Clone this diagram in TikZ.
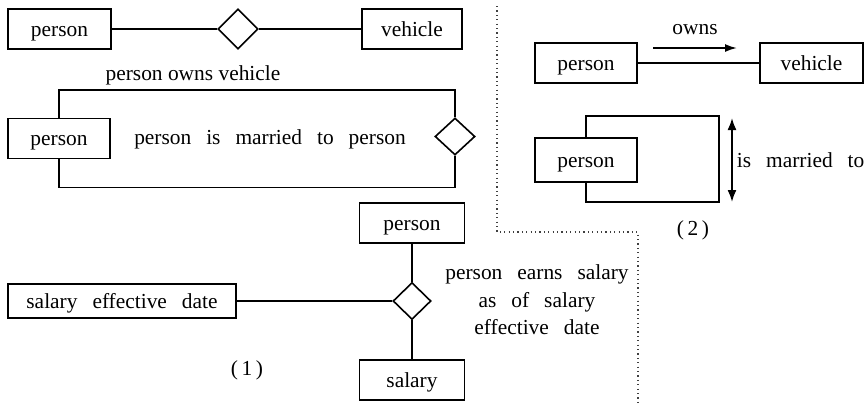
\documentclass[tikz,border=0pt]{standalone}
\usepackage{fontspec}
\setmainfont{Liberation Serif}
\usetikzlibrary{arrows.meta,positioning,shapes.geometric}

\newcommand{\erfont}{\fontsize{10.7}{13.7}\selectfont}
\newcommand{\erwide}{\erfont\spaceskip=0.7em\relax}

\begin{document}
\begin{tikzpicture}[x=0.5pt, y=-0.5pt,
    entity/.style={draw, line width=0.8pt, minimum height=20pt, inner sep=2pt, text height=9pt, text depth=2pt, font=\erfont},
    rel/.style={draw, diamond, line width=0.8pt, minimum width=20pt, minimum height=20pt, inner sep=0pt},
    link/.style={line width=0.8pt},
    arrow/.style={line width=0.9pt, -{Latex[length=6pt,width=4pt]}},
    darrow/.style={line width=0.9pt, {Latex[length=6pt,width=4.5pt]}-{Latex[length=6pt,width=4.5pt]}},
    lab/.style={font=\erfont, inner sep=2pt},
    wide/.style={font=\erwide},
    sep/.style={line width=0.6pt, black!75, dash pattern=on 0.6pt off 1.6pt}
  ]
    \useasboundingbox (0,0) rectangle (868,403);

    % (1) binary relation
    \node[entity, minimum width=51.5pt] (pA) at (59.5,29) {person};
    \node[rel] (dA) at (238,29) {};
    \node[entity, minimum width=50pt] (vA) at (412,29) {vehicle};
    \node[lab] (capA) at (193,75) {person owns vehicle};
    \draw[link] (pA) -- (dA) -- (vA);

    % (1) recursive relation
    \node[entity, minimum width=51pt] (pB) at (59,138.5) {person};
    \node[rel, minimum height=18.5pt] (dB) at (455,136.5) {};
    \node[wide] (capB) at (270,139) {person is married to person};
    \draw[link] (pB.north) -- ++(0,-28) -| (dB.north);
    \draw[link] (pB.south) -- ++(0,28) -| (dB.south);

    % (1) ternary relation
    \node[entity, minimum width=52.5pt] (pC) at (412,223) {person};
    \node[rel, minimum width=19pt, minimum height=18.5pt] (dC) at (412,301) {};
    \node[entity, minimum width=52.5pt] (sC) at (412,380) {salary};
    \node[entity, wide, minimum width=114pt, minimum height=17pt] (dateC) at (122,301) {salary effective date};
    \node[wide, align=center] (capC) at (537,300) {person earns salary\\as of salary\\effective date};
    \draw[link] (pC) -- (dC) -- (sC);
    \draw[link] (dateC) -- (dC);
    \node[lab] (numA) at (247,370) {(\,1\,)};

    % (2) arrow notation
    \node[entity, minimum width=51pt] (pD) at (586,63) {person};
    \node[entity, minimum width=51.5pt] (vD) at (811.5,63) {vehicle};
    \draw[link] (pD) -- (vD);
    \coordinate (ownsL) at (653,48);
    \coordinate (ownsR) at (737,48);
    \draw[arrow] (ownsL) -- node[lab, above=4pt]{owns} (ownsR);

    \node[entity, minimum width=51pt, minimum height=22pt] (pE) at (586,160) {person};
    \draw[link] (pE.north) -- ++(0,-21) -- ++(133,0) -- ++(0,86) -- ++(-133,0) -- (pE.south);
    \coordinate (marT) at (732,118);
    \coordinate (marB) at (732,202);
    \draw[darrow] (marT) -- node[wide, right, inner sep=2pt]{is married to} (marB);
    \node[lab] (numB) at (693,230) {(\,2\,)};

    % separators
    \coordinate (sepA) at (497,6);
    \coordinate (sepB) at (497,232);
    \coordinate (sepC) at (638,232);
    \coordinate (sepD) at (638,403);
    \draw[sep] (sepA) -- (sepB) -- (sepC) -- (sepD);
  \end{tikzpicture}
\end{document}
